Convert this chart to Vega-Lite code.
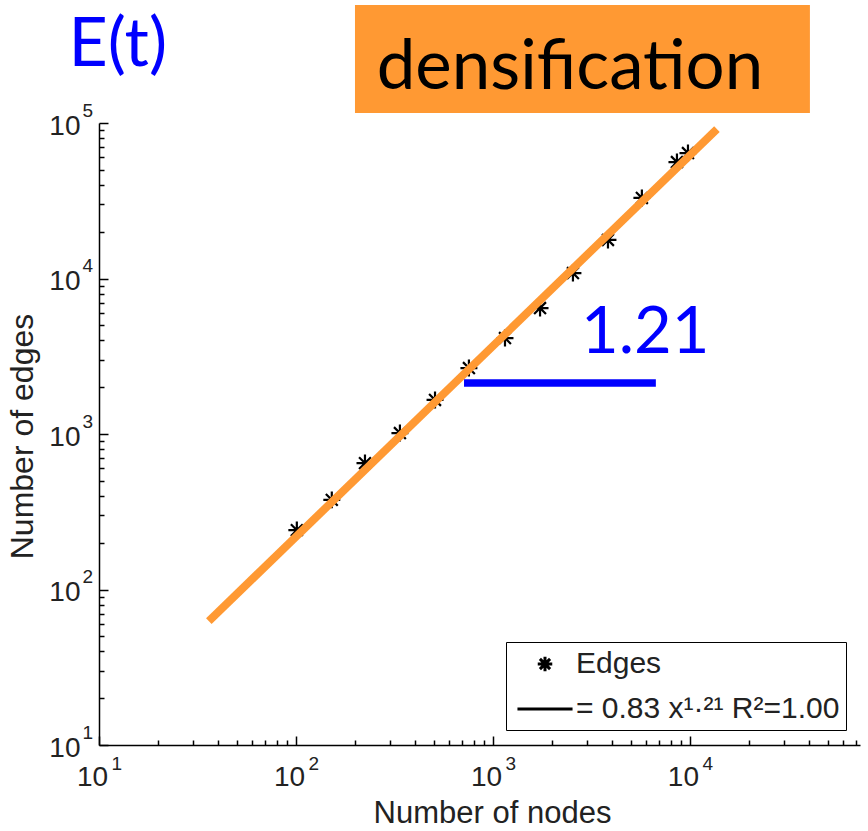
{
  "$schema": "https://vega.github.io/schema/vega-lite/v6.json",
  "width": 761,
  "height": 622,
  "autosize": "none",
  "padding": {"left": 99, "top": 123, "right": 8, "bottom": 86},
  "background": "white",
  "config": {
    "view": {"stroke": null},
    "axis": {
      "grid": false,
      "domainColor": "black",
      "domainWidth": 1.5,
      "tickColor": "black",
      "tickWidth": 1.5,
      "labelColor": "#222222",
      "titleColor": "#222222",
      "labelFont": "Liberation Sans",
      "titleFont": "Liberation Sans",
      "titleFontWeight": "normal",
      "labelOverlap": false,
      "labelFlush": false,
      "labelBound": false
    }
  },
  "datasets": {
    "edges": [
      {"nodes": 101, "edges": 241, "series": "Edges"},
      {"nodes": 152, "edges": 377, "series": "Edges"},
      {"nodes": 224, "edges": 650, "series": "Edges"},
      {"nodes": 337, "edges": 1014, "series": "Edges"},
      {"nodes": 508, "edges": 1656, "series": "Edges"},
      {"nodes": 755, "edges": 2655, "series": "Edges"},
      {"nodes": 1151, "edges": 4140, "series": "Edges"},
      {"nodes": 1734, "edges": 6457, "series": "Edges"},
      {"nodes": 2547, "edges": 10840, "series": "Edges"},
      {"nodes": 3836, "edges": 17700, "series": "Edges"},
      {"nodes": 5702, "edges": 32960, "series": "Edges"},
      {"nodes": 8590, "edges": 56100, "series": "Edges"},
      {"nodes": 9772, "edges": 64100, "series": "Edges"}
    ],
    "fit": [
      {"nodes": 36.1, "edges": 62.6},
      {"nodes": 13710, "edges": 91400}
    ]
  },
  "resolve": {"axis": {"x": "independent", "y": "independent"}},
  "layer": [
    {
      "data": {"name": "edges"},
      "mark": {"type": "point", "filled": false, "color": "black", "strokeWidth": 2.2, "size": 1150, "opacity": 1},
      "encoding": {
        "x": {
          "field": "nodes", "type": "quantitative",
          "scale": {"type": "log", "domain": [10, 73000], "nice": false},
          "axis": {
            "orient": "bottom",
            "values": [10,20,30,40,50,60,70,80,90,100,200,300,400,500,600,700,800,900,1000,2000,3000,4000,5000,6000,7000,8000,9000,10000,20000,30000,40000,50000,60000,70000],
            "labelExpr": "abs(log(datum.value)/LN10 - round(log(datum.value)/LN10)) < 0.001 ? '10' : ''",
            "tickSize": {"condition": {"test": "abs(log(datum.value)/LN10 - round(log(datum.value)/LN10)) < 0.001", "value": -9}, "value": -5},
            "labelFontSize": 28,
            "labelPadding": 41,
            "labelOffset": -7,
            "labelBaseline": "middle",
            "title": "Number of nodes",
            "titleFontSize": 31,
            "titleX": 393,
            "titleY": 77,
            "titleBaseline": "alphabetic"
          }
        },
        "y": {
          "field": "edges", "type": "quantitative",
          "scale": {"type": "log", "domain": [10, 100000], "nice": false},
          "axis": {
            "orient": "left",
            "values": [10,20,30,40,50,60,70,80,90,100,200,300,400,500,600,700,800,900,1000,2000,3000,4000,5000,6000,7000,8000,9000,10000,20000,30000,40000,50000,60000,70000,80000,90000,100000],
            "labelExpr": "abs(log(datum.value)/LN10 - round(log(datum.value)/LN10)) < 0.001 ? '10' : ''",
            "tickSize": {"condition": {"test": "abs(log(datum.value)/LN10 - round(log(datum.value)/LN10)) < 0.001", "value": -9}, "value": -5},
            "labelFontSize": 28,
            "labelPadding": 28,
            "labelOffset": 3,
            "labelAlign": "right",
            "labelBaseline": "middle",
            "title": "Number of edges",
            "titleFontSize": 32,
            "titleX": -77,
            "titleY": 313,
            "titleBaseline": "middle"
          }
        },
        "shape": {
          "field": "series", "type": "nominal",
          "scale": {
            "domain": ["Edges", "= 0.83 x¹·²¹ R²=1.00"],
            "range": [
              "M-0.5,0H0.5M0,-0.5V0.5M-0.35,-0.35L0.35,0.35M-0.35,0.35L0.35,-0.35",
              "M-1.9,0H1.9"
            ]
          },
          "legend": {
            "title": null,
            "orient": "none",
            "legendX": 407,
            "legendY": 519,
            "strokeColor": "black",
            "fillColor": "white",
            "padding": 6,
            "rowPadding": 14,
            "symbolSize": 841,
            "symbolStrokeWidth": 3,
            "symbolStrokeColor": "black",
            "symbolOffset": 17,
            "labelOffset": 15,
            "labelFontSize": 30,
            "labelFont": "Liberation Sans",
            "labelColor": "#222222",
            "labelLimit": 500,
            "cornerRadius": 0
          }
        }
      }
    },
    {
      "data": {"name": "fit"},
      "mark": {"type": "line", "color": "#FF9933", "strokeWidth": 8, "strokeCap": "butt"},
      "encoding": {
        "x": {
          "field": "nodes", "type": "quantitative",
          "axis": {
            "orient": "bottom",
            "values": [10, 100, 1000, 10000],
            "labelExpr": "'' + round(log(datum.value)/LN10)",
            "ticks": false,
            "domain": false,
            "labelFontSize": 19,
            "labelAlign": "left",
            "labelOffset": 12,
            "labelPadding": 18,
            "labelBaseline": "middle",
            "title": null
          }
        },
        "y": {
          "field": "edges", "type": "quantitative",
          "axis": {
            "orient": "left",
            "values": [10, 100, 1000, 10000, 100000],
            "labelExpr": "'' + round(log(datum.value)/LN10)",
            "ticks": false,
            "domain": false,
            "labelFontSize": 19,
            "labelAlign": "left",
            "labelPadding": 17,
            "labelOffset": -13,
            "labelBaseline": "middle",
            "title": null
          }
        }
      }
    },
    {
      "data": {"values": [{}]},
      "mark": {"type": "rect", "color": "#FF9933"},
      "encoding": {
        "x": {"datum": 199.3, "type": "quantitative", "axis": null},
        "x2": {"datum": 40650},
        "y": {"datum": 574000, "type": "quantitative", "axis": null},
        "y2": {"datum": 115950}
      }
    },
    {
      "data": {"values": [{}]},
      "mark": {"type": "text", "text": "densification", "font": "Lato", "fontSize": 69, "color": "black", "align": "left", "baseline": "alphabetic"},
      "encoding": {
        "x": {"datum": 257, "type": "quantitative", "axis": null},
        "y": {"datum": 165000, "type": "quantitative", "axis": null}
      }
    },
    {
      "data": {"values": [{}]},
      "mark": {"type": "text", "text": "E(t)", "font": "Lato", "fontSize": 68, "color": "#0000FF", "align": "left", "baseline": "alphabetic"},
      "encoding": {
        "x": {"datum": 7.0, "type": "quantitative", "axis": null},
        "y": {"datum": 232600, "type": "quantitative", "axis": null}
      }
    },
    {
      "data": {"values": [{}]},
      "mark": {"type": "text", "text": "1.21", "font": "Lato", "fontSize": 65, "color": "#0000FF", "align": "left", "baseline": "alphabetic"},
      "encoding": {
        "x": {"datum": 2800, "type": "quantitative", "axis": null},
        "y": {"datum": 3319, "type": "quantitative", "axis": null}
      }
    },
    {
      "data": {"values": [{}]},
      "mark": {"type": "rule", "color": "#0000FF", "strokeWidth": 7.5, "strokeCap": "butt"},
      "encoding": {
        "x": {"datum": 713, "type": "quantitative", "axis": null},
        "x2": {"datum": 6713},
        "y": {"datum": 2128, "type": "quantitative", "axis": null}
      }
    }
  ]
}
